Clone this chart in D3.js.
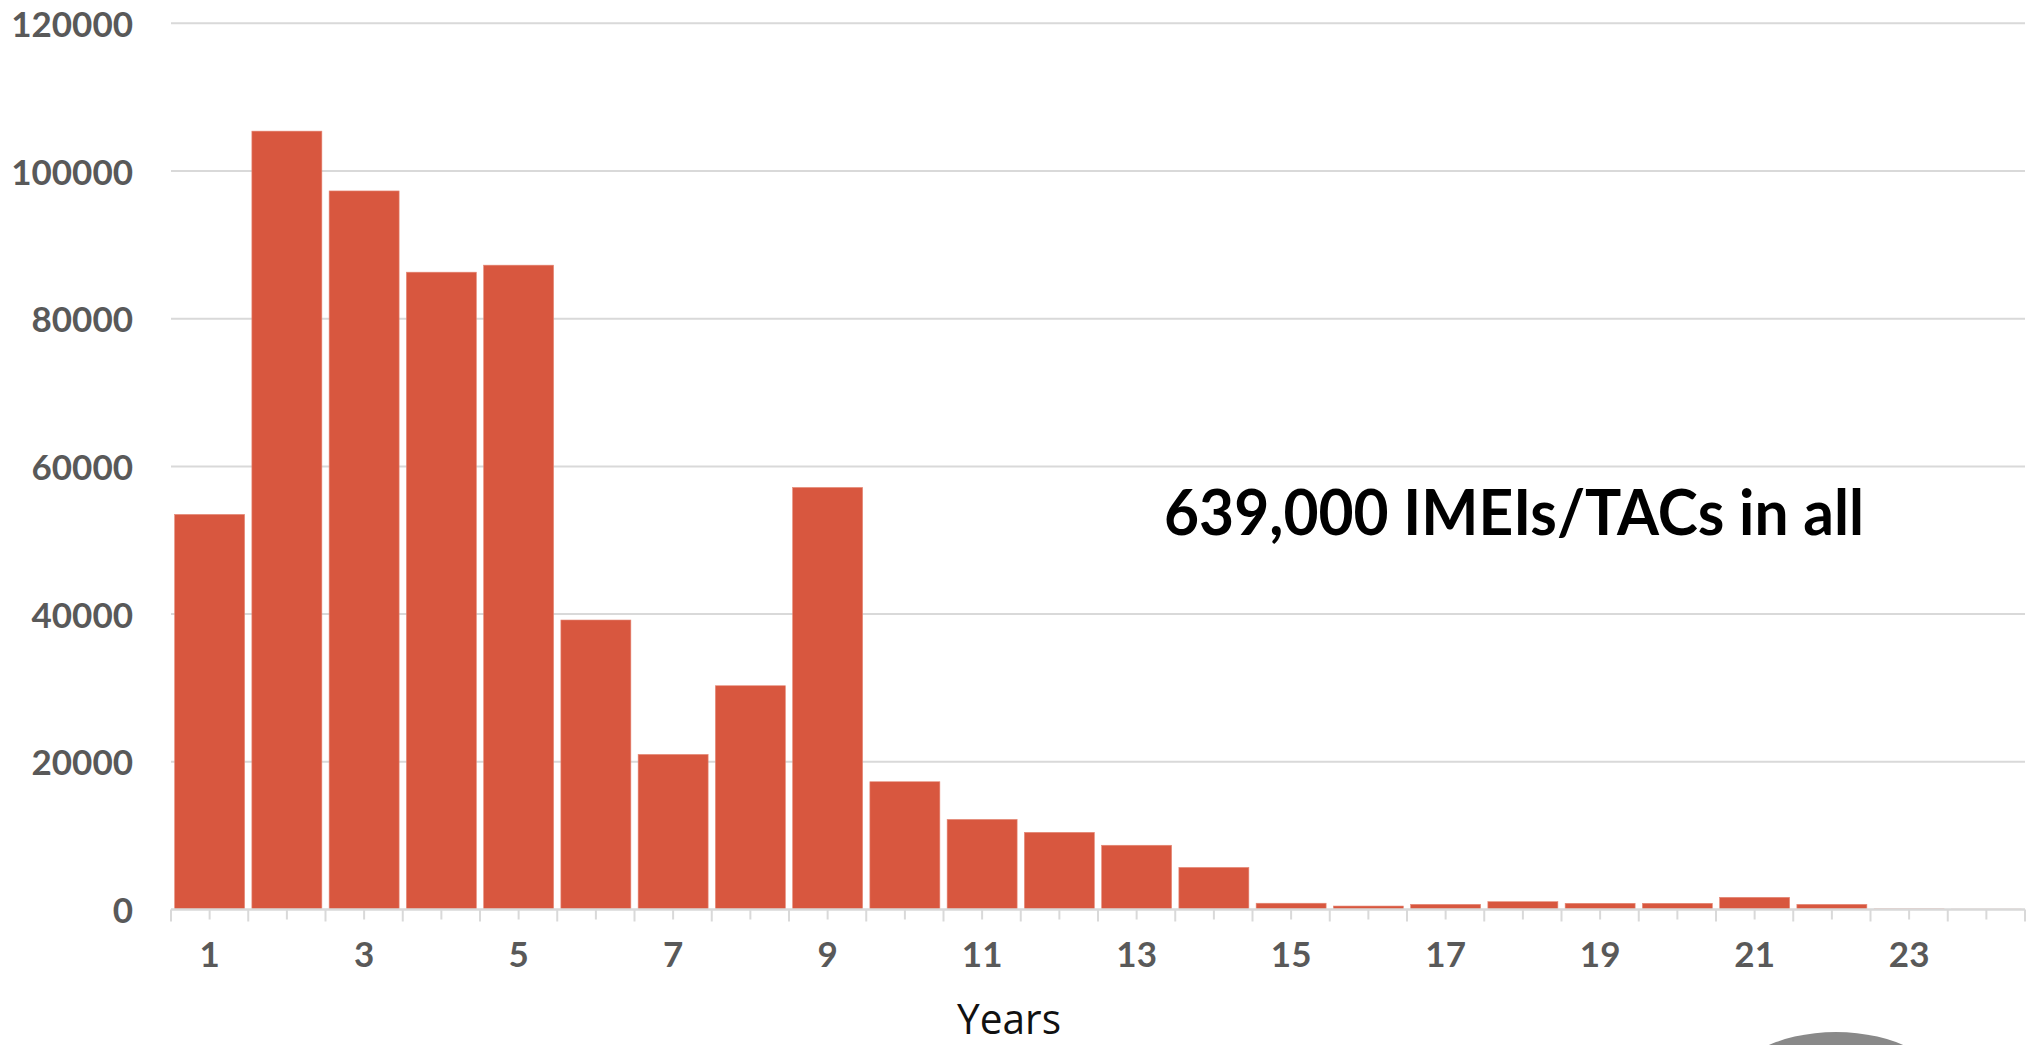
<!DOCTYPE html>
<html>
<head>
<meta charset="utf-8">
<script src="https://cdn.jsdelivr.net/npm/d3@7"></script>
<style>
  html, body { margin: 0; padding: 0; background: #ffffff; }
  svg { display: block; }
</style>
</head>
<body>
<svg id="chart" width="2033" height="1045"></svg>
<script>
// ---- data ----
const years = [1,2,3,4,5,6,7,8,9,10,11,12,13,14,15,16,17,18,19,20,21,22,23,24];
const counts = [53500,105400,97300,86300,87250,39200,21000,30300,57150,17300,12200,10450,8700,5700,850,470,700,1060,840,840,1650,700,80,50];
const yTicks = [0,20000,40000,60000,80000,100000,120000];
const xLabelYears = [1,3,5,7,9,11,13,15,17,19,21,23];
const annotation = "639,000 IMEIs/TACs in all";
const xTitle = "Years";

// ---- layout ----
const W = 2033, H = 1045;
const plotLeft = 171, plotRight = 2025, plotTop = 23.3, plotBottom = 909.5;

const svg = d3.select("#chart");

const x = d3.scaleBand()
  .domain(years)
  .range([plotLeft, plotRight])
  .paddingInner(0.094)
  .paddingOuter(0.047);

const y = d3.scaleLinear()
  .domain([0, 120000])
  .range([plotBottom, plotTop]);

// gridlines
svg.append("g")
  .attr("class", "grid")
  .selectAll("line")
  .data(yTicks.filter(d => d > 0))
  .join("line")
  .attr("x1", plotLeft).attr("x2", plotRight)
  .attr("y1", d => y(d)).attr("y2", d => y(d))
  .attr("stroke", "#d9d9d9")
  .attr("stroke-width", 2);

// bars
svg.append("g")
  .selectAll("rect")
  .data(years.map((yr, i) => ({ yr, v: counts[i] })))
  .join("rect")
  .attr("x", d => x(d.yr))
  .attr("width", x.bandwidth())
  .attr("y", d => y(d.v))
  .attr("height", d => y(0) - y(d.v))
  .attr("fill", "#d8573f")
  .attr("stroke", "#e58a78")
  .attr("stroke-width", 0.6);

// y axis labels
const yAxis = d3.axisLeft(y).tickValues(yTicks).tickSize(0).tickPadding(0).tickFormat(d3.format("d"));
const gy = svg.append("g").attr("transform", `translate(133,0)`).call(yAxis);
gy.select(".domain").remove();
gy.selectAll("text")
  .attr("x", 0)
  .attr("dy", null)
  .attr("y", 13)
  .attr("text-anchor", "end")
  .attr("fill", "#595959")
  .style("font-family", "Lato, 'Open Sans', sans-serif")
  .style("font-weight", "700")
  .style("font-size", "35px");

// x axis line
const step = x.step();
svg.append("line")
  .attr("x1", plotLeft).attr("x2", plotRight)
  .attr("y1", plotBottom).attr("y2", plotBottom)
  .attr("stroke", "#d9d9d9").attr("stroke-width", 2.5);

// tick marks: boundaries and centers
const boundaries = d3.range(years.length + 1).map(i => plotLeft + i * step);
svg.append("g").selectAll("line.b")
  .data(boundaries)
  .join("line")
  .attr("x1", d => d).attr("x2", d => d)
  .attr("y1", plotBottom).attr("y2", plotBottom + 12)
  .attr("stroke", "#d9d9d9").attr("stroke-width", 2);
svg.append("g").selectAll("line.c")
  .data(years)
  .join("line")
  .attr("x1", d => x(d) + x.bandwidth() / 2).attr("x2", d => x(d) + x.bandwidth() / 2)
  .attr("y1", plotBottom).attr("y2", plotBottom + 10)
  .attr("stroke", "#d9d9d9").attr("stroke-width", 2);

// x axis labels
const xAxis = d3.axisBottom(x).tickValues(xLabelYears).tickSize(0).tickPadding(0);
const gx = svg.append("g").attr("transform", `translate(0,${plotBottom})`).call(xAxis);
gx.select(".domain").remove();
gx.selectAll("text")
  .attr("y", 57)
  .attr("dy", null)
  .attr("fill", "#595959")
  .style("font-family", "Lato, 'Open Sans', sans-serif")
  .style("font-weight", "700")
  .style("font-size", "35px");

// x title
svg.append("text")
  .attr("x", 1009).attr("y", 1034)
  .attr("text-anchor", "middle")
  .attr("fill", "#111")
  .attr("textLength", 104)
  .attr("lengthAdjust", "spacingAndGlyphs")
  .style("font-family", "'Open Sans', Lato, sans-serif")
  .style("font-size", "42px")
  .text(xTitle);

// annotation
svg.append("text")
  .attr("x", 1164).attr("y", 535)
  .attr("fill", "#000")
  .attr("textLength", 700)
  .attr("lengthAdjust", "spacingAndGlyphs")
  .style("font-family", "Lato, 'Open Sans', sans-serif")
  .style("font-weight", "700")
  .style("font-size", "63px")
  .text(annotation);

// decorative grey shape at bottom right
svg.append("ellipse")
  .attr("cx", 1836).attr("cy", 1092)
  .attr("rx", 108).attr("ry", 60)
  .attr("fill", "#898989");
</script>
</body>
</html>
